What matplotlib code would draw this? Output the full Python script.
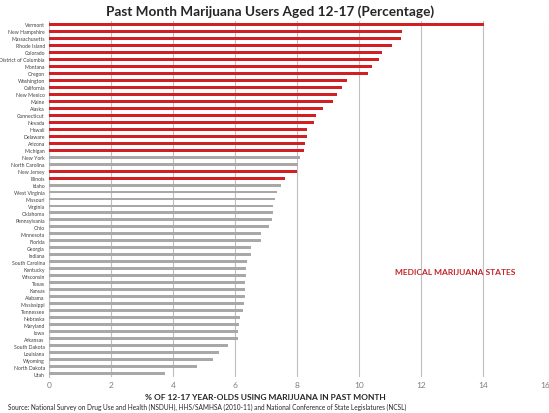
import matplotlib
matplotlib.use("Agg")
import matplotlib.pyplot as plt

states = ["Vermont", "New Hampshire", "Massachusetts", "Rhode Island", "Colorado",
          "District of Columbia", "Montana", "Oregon", "Washington", "California",
          "New Mexico", "Maine", "Alaska", "Connecticut", "Nevada", "Hawaii",
          "Delaware", "Arizona", "Michigan", "New York", "North Carolina",
          "New Jersey", "Illinois", "Idaho", "West Virginia", "Missouri",
          "Virginia", "Oklahoma", "Pennsylvania", "Ohio", "Minnesota", "Florida",
          "Georgia", "Indiana", "South Carolina", "Kentucky", "Wisconsin", "Texas",
          "Kansas", "Alabama", "Mississippi", "Tennessee", "Nebraska", "Maryland",
          "Iowa", "Arkansas", "South Dakota", "Louisiana", "Wyoming",
          "North Dakota", "Utah"]

pct = [14.03, 11.38, 11.34, 11.07, 10.74, 10.63, 10.42, 10.28, 9.60, 9.45,
       9.28, 9.15, 8.85, 8.60, 8.54, 8.31, 8.31, 8.25, 8.22, 8.09, 8.03,
       8.01, 7.62, 7.47, 7.34, 7.30, 7.24, 7.21, 7.19, 7.11, 6.85, 6.83,
       6.53, 6.51, 6.39, 6.37, 6.37, 6.33, 6.33, 6.31, 6.29, 6.25, 6.16,
       6.12, 6.10, 6.09, 5.76, 5.48, 5.30, 4.77, 3.73]

medical = ["Vermont", "New Hampshire", "Massachusetts", "Rhode Island", "Colorado",
           "District of Columbia", "Montana", "Oregon", "Washington", "California",
           "New Mexico", "Maine", "Alaska", "Connecticut", "Nevada", "Hawaii",
           "Delaware", "Arizona", "Michigan", "New Jersey", "Illinois"]

ticks = [0, 2, 4, 6, 8, 10, 12, 14, 16]

plt.rcParams['font.family'] = ['Lato', 'DejaVu Sans']

colors = ['#d11f24' if s in medical else '#a8a8a8' for s in states]

fig = plt.figure(figsize=(5.49, 4.14), dpi=100)
ax = fig.add_axes([49/549, 1 - 378/414, (545-49)/549, (378-22)/414])

y = list(range(len(states)))
ax.barh(y, pct, height=0.42, color=colors, zorder=3)
ax.set_ylim(len(states) - 0.5, -0.5)
ax.set_xlim(0, 16)
ax.set_xticks(ticks)
ax.set_xticklabels([str(t) for t in ticks], fontsize=6, color='#7f7f7f')
ax.set_yticks(y)
ax.set_yticklabels(states, fontsize=3.7, color='#404040')
ax.tick_params(axis='both', length=0, pad=3)
ax.grid(axis='x', color='#bfbfbf', linewidth=0.8, zorder=0)
for sp in ['top', 'right', 'bottom']:
    ax.spines[sp].set_visible(False)
ax.spines['left'].set_color('#bfbfbf')

ax.text(13.1, 35.4, "MEDICAL MARIJUANA STATES", color='#c0262c', fontsize=6,
        fontweight='bold', ha='center', va='center')

fig.text(270/549, 1 - 12/414, "Past Month Marijuana Users Aged 12-17 (Percentage)",
         fontsize=9.8, fontweight='bold', ha='center', va='center', color='#262626')
fig.text(265/549, 1 - 398/414, "% OF 12-17 YEAR-OLDS USING MARIJUANA IN PAST MONTH",
         fontsize=6, fontweight='bold', ha='center', va='center', color='#262626')
fig.text(8/549, 1 - 407/414,
         "Source: National Survey on Drug Use and Health (NSDUH), HHS/SAMHSA (2010-11) and National Conference of State Legislatures (NCSL)",
         fontsize=4.7, ha='left', va='center', color='#262626')

fig.savefig("out.png", dpi=100)
